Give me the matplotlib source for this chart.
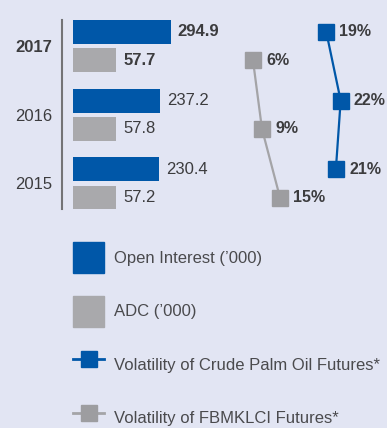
import matplotlib.pyplot as plt
import numpy as np
from matplotlib.font_manager import FontProperties
from matplotlib.lines import Line2D
from matplotlib.patches import Patch

years = ['2015', '2016', '2017']
open_interest = [230.4, 237.2, 294.9]
adc = [57.2, 57.8, 57.7]
vol_cpo = [21, 22, 19]
vol_fbmklci = [15, 9, 6]
legend_labels = ["Open Interest (\u2019000)", "ADC (\u2019000)",
                 "Volatility of Crude Palm Oil Futures*",
                 "Volatility of FBMKLCI Futures*"]

blue = '#0057a8'
grey_bar = '#a9a9ac'
grey_mark = '#9d9da0'
grey_line = '#a4a4a7'
bg = '#e2e5f3'
dark = '#3c3c3e'

plt.rcParams['font.family'] = ['Liberation Sans', 'DejaVu Sans']

leg_prop = FontProperties(family='Liberation Sans', size=12)
fs_px = leg_prop.get_size_in_points() * 100 / 72

fig = plt.figure(figsize=(3.87, 4.28), dpi=100)
fig.patch.set_facecolor(bg)

# bars on a square-root scale
ax = fig.add_axes([73 / 387, 1 - 209.5 / 428, 314 / 387, 189.5 / 428])
ax.set_facecolor('none')
ax.set_xscale('function', functions=(lambda x: np.sqrt(np.clip(x, 0, None)), np.square))
ax.set_xlim(0, 3056)
ax.set_ylim(-0.3815, 2.3815)

y = np.arange(len(years))
off = 0.207
h = 0.35
b1 = ax.barh(y + off, open_interest, height=h, color=blue)
b2 = ax.barh(y - off, adc, height=h, color=grey_bar)
for bars, vals in ((b1, open_interest), (b2, adc)):
    labels = ax.bar_label(bars, labels=[f'{v:.1f}' for v in vals], padding=5,
                          fontsize=12, color=dark)
    labels[-1].set_fontweight('bold')

for s in ['top', 'right', 'bottom']:
    ax.spines[s].set_visible(False)
ax.spines['left'].set_position(('outward', 8))
ax.spines['left'].set_color('#737376')
ax.spines['left'].set_linewidth(1.5)
ax.set_xticks([])
ax.set_yticks(y)
ax.set_yticklabels(years, fontsize=12, color=dark)
ax.tick_params(axis='y', length=0, pad=7)
ax.get_yticklabels()[-1].set_fontweight('bold')

# volatility lines, each on its own x scale
ax_g = ax.twiny()
ax_g.set_xlim(-54, 50.67)
ax_g.plot(vol_fbmklci, y - off, color=grey_line, lw=1.6, marker='s', ms=11.5,
          mfc=grey_mark, mec=grey_mark)
for v, yy in zip(vol_fbmklci, y - off):
    ax_g.annotate(f'{v}%', (v, yy), xytext=(9.5, 0), textcoords='offset points',
                  ha='left', va='center', fontsize=11.5, fontweight='bold', color=dark)

ax_b = ax.twiny()
ax_b.set_xlim(-33.87, 31.67)
ax_b.plot(vol_cpo, y + off, color=blue, lw=1.6, marker='s', ms=11.5,
          mfc=blue, mec=blue)
for v, yy in zip(vol_cpo, y + off):
    ax_b.annotate(f'{v}%', (v, yy), xytext=(9.5, 0), textcoords='offset points',
                  ha='left', va='center', fontsize=11.5, fontweight='bold', color=dark)

for a in (ax_g, ax_b):
    a.set_facecolor('none')
    a.set_xticks([])
    for s in a.spines.values():
        s.set_visible(False)

# legend: 31 px keys, rows about 53 px apart
key = 31
handles = [Patch(color=blue), Patch(color=grey_bar),
           Line2D([], [], color=blue, lw=2, marker='s', ms=11.5),
           Line2D([], [], color=grey_line, lw=2, marker='s', ms=11.5,
                  mfc=grey_mark, mec=grey_mark)]
leg = fig.legend(handles, legend_labels, loc='upper left',
                 bbox_to_anchor=(73 / 387, 1 - 242 / 428), frameon=False,
                 borderpad=0, borderaxespad=0,
                 handlelength=key / fs_px,
                 handleheight=(key / fs_px - 0.245) / 0.65,
                 labelspacing=(53.5 - key) / fs_px,
                 handletextpad=10 / fs_px, numpoints=1, prop=leg_prop)
for t in leg.get_texts():
    t.set_color('#4a4a4d')

plt.savefig('out.png', dpi=100, facecolor=bg)
